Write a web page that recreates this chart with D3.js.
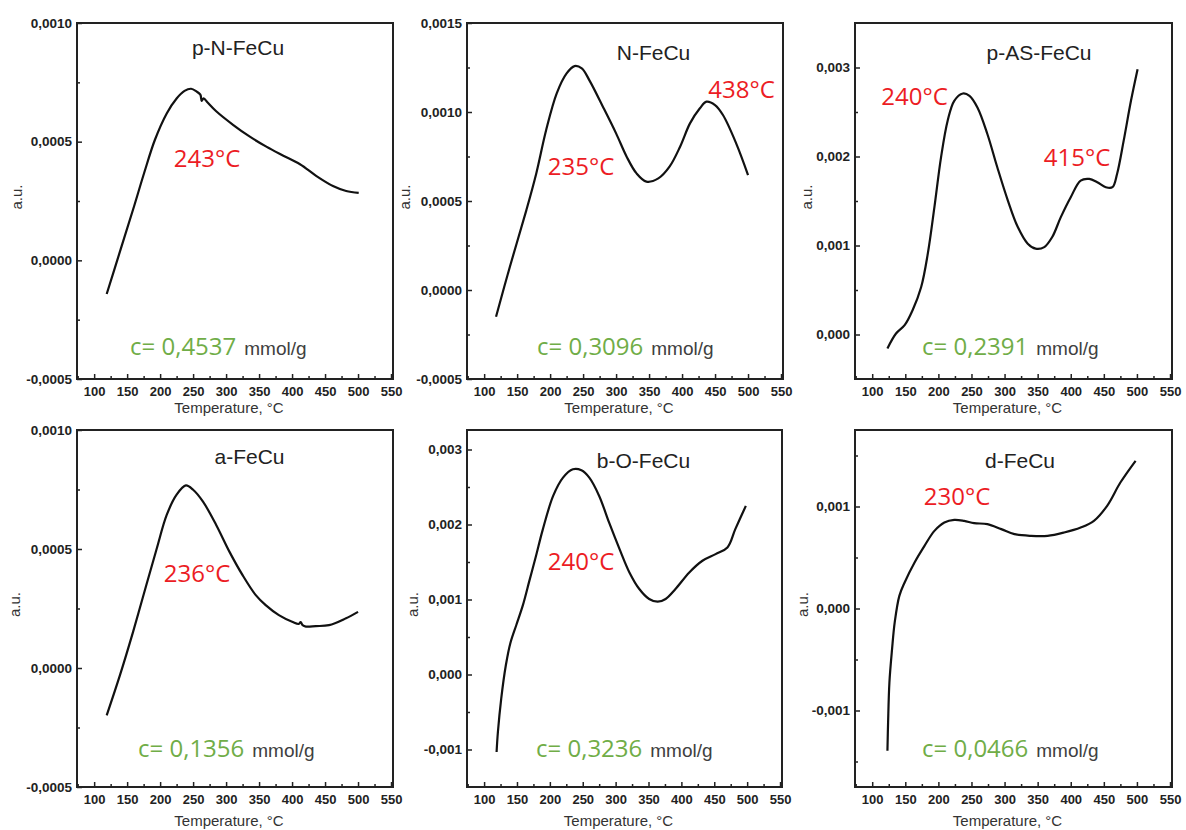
<!DOCTYPE html>
<html><head><meta charset="utf-8">
<script src="https://cdn.jsdelivr.net/npm/d3@7"></script>
<style>
html,body{margin:0;padding:0;background:#fff;}
svg{display:block;}
</style></head>
<body>
<svg id="chart" width="1186" height="830"></svg>
<script>
// ---------- DATA ----------
const sampleNames = ["p-N-FeCu","N-FeCu","p-AS-FeCu","a-FeCu","b-O-FeCu","d-FeCu"];
const concentrations = ["0,4537","0,3096","0,2391","0,1356","0,3236","0,0466"];
const peakLabels = [["243°C"],["235°C","438°C"],["240°C","415°C"],["236°C"],["240°C"],["230°C"]];
const xTicks = [100,150,200,250,300,350,400,450,500,550];

const tempPN = [119,140,159,176,192,210,225,237,247,255,261,263,266,272,285,311,336,361,386,412,437,462,482,501];
const valPN  = [-0.000142,0.000045,0.000214,0.00037,0.000507,0.000619,0.000682,0.000714,0.000723,0.000712,0.000698,0.000672,0.000682,0.000665,0.000628,0.00057,0.000521,0.000479,0.000442,0.000405,0.000355,0.000313,0.000292,0.000284];

const tempN = [118,139,164,179,194,210,225,237,248,260,280,300,316,331,346,364,381,397,412,427,437,450,462,482,500];
const valN  = [-0.00015,0.000131,0.000449,0.000655,0.000899,0.001105,0.001217,0.001258,0.001245,0.001175,0.00103,0.00088,0.000749,0.000655,0.000609,0.000627,0.000693,0.000805,0.000936,0.001021,0.001058,0.001039,0.000983,0.000824,0.000646];

const tempPAS = [123,136,149,161,174,184,194,204,214,224,237,247,259,274,289,305,320,335,347,360,372,385,400,415,428,440,453,463,470,480,491,501];
const valPAS  = [-0.000157,0.000011,0.000105,0.000273,0.000534,0.000908,0.001431,0.001991,0.002402,0.002626,0.002708,0.002682,0.002551,0.002253,0.001879,0.001505,0.001207,0.00102,0.000964,0.000982,0.001095,0.001319,0.001543,0.00173,0.001748,0.001711,0.001655,0.001655,0.001804,0.002178,0.002626,0.002981];

const tempA = [119,139,159,179,195,210,225,239,250,265,285,305,325,345,360,380,401,410,413,416,421,436,456,481,500];
const valA  = [-0.000199,-0.000031,0.000152,0.000348,0.000503,0.000643,0.000728,0.000767,0.000749,0.000699,0.000601,0.000489,0.00039,0.000306,0.000264,0.000222,0.000193,0.000185,0.000193,0.00018,0.000174,0.000176,0.00018,0.000208,0.000236];

const tempBO = [119,121,126,133,140,149,159,169,179,189,205,220,235,248,260,275,290,306,321,336,351,364,376,391,412,432,452,470,482,498];
const valBO  = [-0.001033,-0.000767,-0.000324,0.00012,0.00042,0.00066,0.000925,0.001255,0.001583,0.001925,0.002381,0.002625,0.002736,0.002723,0.002625,0.002381,0.002027,0.001672,0.001361,0.00114,0.001007,0.000971,0.001007,0.00114,0.001361,0.001517,0.001605,0.001694,0.001938,0.002248];

const tempD = [123,124,126,130,134,141,149,164,179,194,209,224,239,254,274,295,315,340,365,390,415,435,455,475,498];
const valD  = [-0.001395,-0.001118,-0.000725,-0.000399,-0.000137,0.000124,0.000255,0.000451,0.000614,0.000761,0.000843,0.000869,0.000859,0.000837,0.000827,0.000778,0.000729,0.000712,0.000712,0.000745,0.000794,0.000859,0.001007,0.001235,0.001448];

const yMajorTicks = [
  [-0.0005,0,0.0005,0.001],
  [-0.0005,0,0.0005,0.001,0.0015],
  [0,0.001,0.002,0.003],
  [-0.0005,0,0.0005,0.001],
  [-0.001,0,0.001,0.002,0.003],
  [-0.001,0,0.001]
];
const yMinorTicks = [
  [-0.00025,0.00025,0.00075],
  [-0.00025,0.00025,0.00075,0.00125],
  [0.0005,0.0015,0.0025],
  [-0.00025,0.00025,0.00075],
  [-0.0005,0.0005,0.0015,0.0025],
  [-0.0015,-0.0005,0.0005,0.0015]
];
const yDomains = [[-0.0005,0.001],[-0.0005,0.0015],[-0.0005,0.0035],[-0.0005,0.001],[-0.0015,0.00326],[-0.00175,0.00175]];
const yDecimals = [4,4,3,4,3,3];
const xDomain = [74,553];

// ---------- LAYOUT ----------
const boxes = [
  {x:77,y:23,w:316,h:356},{x:467,y:23,w:316,h:356},{x:855,y:23,w:317,h:356},
  {x:77,y:430,w:316,h:357},{x:467,y:430,w:315,h:357},{x:855,y:430,w:317,h:357}
];
const layout = [
  {title:[161,32], peaks:[[130,144]], conc:[53,332], au:60},
  {title:[186.5,37], peaks:[[114,152],[274.5,75]], conc:[70,332], au:62},
  {title:[184,37], peaks:[[59.5,82],[222,143]], conc:[67,332], au:48},
  {title:[172.5,33.5], peaks:[[120,151.7]], conc:[61,326.7], au:62},
  {title:[176.5,37.7], peaks:[[114,140]], conc:[69,326.7], au:54},
  {title:[165,37.7], peaks:[[102,75]], conc:[67,326.7], au:52}
];
const series = [[tempPN,valPN],[tempN,valN],[tempPAS,valPAS],[tempA,valA],[tempBO,valBO],[tempD,valD]];

const svg = d3.select("#chart");
const fmt = dec => d => (d<0?"-":"") + Math.abs(d).toFixed(dec).replace(".",",");

sampleNames.forEach((name,i)=>{
  const b = boxes[i], L = layout[i];
  const g = svg.append("g").attr("transform",`translate(${b.x},${b.y})`);
  const x = d3.scaleLinear().domain(xDomain).range([0,b.w]);
  const y = d3.scaleLinear().domain(yDomains[i]).range([b.h,0]);

  g.append("g").call(d3.axisLeft(y).tickValues(yMinorTicks[i]).tickSize(-3).tickFormat(""))
    .call(s=>s.select(".domain").remove())
    .call(s=>s.selectAll("line").attr("stroke","#222").attr("stroke-width",1.5));
  g.append("g").call(d3.axisLeft(y).tickValues(yMajorTicks[i]).tickSize(-5).tickPadding(5).tickFormat(fmt(yDecimals[i])))
    .call(s=>s.select(".domain").remove())
    .call(s=>s.selectAll("line").attr("stroke","#222").attr("stroke-width",1.5))
    .call(s=>s.selectAll("text").attr("font-family","'Liberation Sans', Arial, sans-serif")
      .attr("font-weight","bold").attr("font-size",13.5).attr("fill","#222"));

  const minorX = d3.range(75,553,25).filter(v=>v%50!==0);
  g.append("g").attr("transform",`translate(0,${b.h})`)
    .call(d3.axisBottom(x).tickValues(minorX).tickSize(-3).tickFormat(""))
    .call(s=>s.select(".domain").remove())
    .call(s=>s.selectAll("line").attr("stroke","#222").attr("stroke-width",1.5));
  g.append("g").attr("transform",`translate(0,${b.h})`)
    .call(d3.axisBottom(x).tickValues(xTicks).tickSize(-5).tickPadding(8).tickFormat(d3.format("d")))
    .call(s=>s.select(".domain").remove())
    .call(s=>s.selectAll("line").attr("stroke","#222").attr("stroke-width",1.5))
    .call(s=>s.selectAll("text").attr("font-family","'Liberation Sans', Arial, sans-serif")
      .attr("font-weight","bold").attr("font-size",13).attr("fill","#222"));

  g.append("rect").attr("width",b.w).attr("height",b.h)
    .attr("fill","none").attr("stroke","#222").attr("stroke-width",2);

  const [T,V] = series[i];
  const pts = T.map((t,k)=>[t,V[k]]);
  g.append("path").datum(pts)
    .attr("fill","none").attr("stroke","#111").attr("stroke-width",2.2)
    .attr("stroke-linejoin","round")
    .attr("d", d3.line().x(d=>x(d[0])).y(d=>y(d[1])).curve(d3.curveCatmullRom.alpha(0.5)));

  g.append("text").attr("x",b.w/2-6).attr("y",b.h + (i<3?34:39))
    .attr("text-anchor","middle").attr("font-family","'Liberation Sans', Arial, sans-serif")
    .attr("font-size",15).attr("fill","#333").text("Temperature, °C");
  g.append("text").attr("transform",`translate(${-L.au},${b.h/2-4}) rotate(-90)`)
    .attr("text-anchor","middle").attr("dy","0.35em").attr("font-family","'Liberation Sans', Arial, sans-serif")
    .attr("font-size",15).attr("fill","#333").text("a.u.");

  g.append("text").attr("x",L.title[0]).attr("y",L.title[1]).attr("text-anchor","middle")
    .attr("font-family","'Liberation Sans', Arial, sans-serif").attr("font-size",21).attr("fill","#222").text(name);

  peakLabels[i].forEach((p,k)=>{
    g.append("text").attr("x",L.peaks[k][0]).attr("y",L.peaks[k][1]).attr("text-anchor","middle")
      .attr("font-family","'Open Sans', sans-serif").attr("font-size",24).attr("fill","#ec1c24").text(p);
  });

  const t = g.append("text").attr("x",L.conc[0]).attr("y",L.conc[1]);
  t.append("tspan").attr("font-family","'Open Sans', sans-serif").attr("font-size",24).attr("fill","#70ad47")
    .text("c= " + concentrations[i]);
  t.append("tspan").attr("dx",8).attr("font-family","'Liberation Sans', Arial, sans-serif").attr("font-size",19).attr("fill","#404040")
    .text("mmol/g");
});
</script>
</body></html>
